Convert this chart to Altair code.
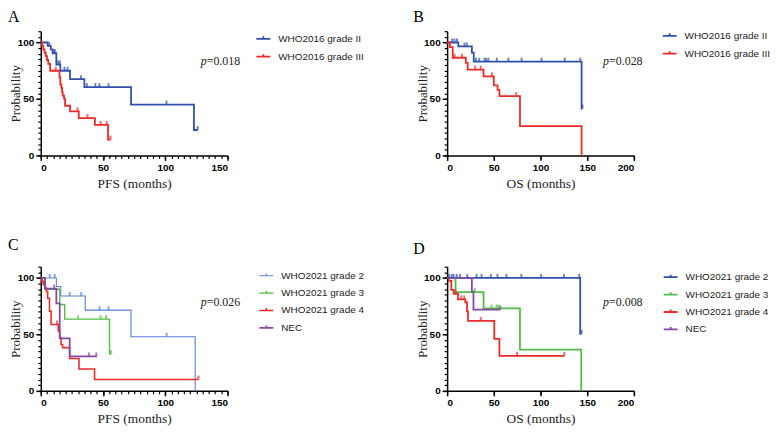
import altair as alt
import pandas as pd

# ---------------- data ----------------
# Panel A: PFS, WHO2016
A_II_t = [0, 5.5, 8, 9.5, 12.5, 15.7, 23.5, 35, 72.5, 123, 126]
A_II_s = [100, 97, 94, 90.5, 80.5, 75, 67.5, 60.5, 45, 22.5, 22.5]
A_II_c = [6.8, 10.5, 11.3, 14, 15.3, 19, 21.5, 32.3, 37, 43.8, 47, 54.4, 101, 126]
A_III_t = [0, 1, 2, 3, 4, 5, 6, 7.5, 15, 15.7, 16.5, 17.1, 17.6, 18.7, 19.5, 23.5, 30.5, 43.5, 54, 56]
A_III_s = [100, 97, 94, 91, 88, 84.5, 81, 75, 69, 63, 60, 56, 53, 50, 44, 39, 33, 27, 14, 14]
A_III_c = [12, 29.5, 37.5, 48, 53, 56]

# Panel B: OS, WHO2016
B_II_t = [0, 12, 26.5, 28.5, 144, 145]
B_II_s = [100, 96.5, 91, 83, 41.5, 41.5]
B_II_c = [5.3, 7.8, 10.6, 18.6, 21, 31, 34.4, 40, 42, 44.3, 53.2, 65.6, 79.8, 101, 126, 142.5, 145]
B_III_t = [0, 3, 6, 20, 22, 39, 50, 54, 56, 78, 144]
B_III_s = [100, 96, 86.5, 82, 76, 70, 62, 58, 52.5, 26, 0]
B_III_c = [8, 16, 30, 36, 48, 74]

# Panel C: PFS, WHO2021
C_2_t = [0, 12.5, 16, 35.7, 72.5, 124]
C_2_s = [100, 92.4, 84, 71.5, 48, 0]
C_2_c = [7.2, 11.2, 23.2, 32.5, 47.2, 54.4, 101]
C_3_t = [0, 3.2, 15.2, 19.2, 55.2, 56.5]
C_3_s = [100, 90, 76.5, 63.5, 32.5, 32.5]
C_3_c = [30, 48, 52.5, 56.5]
C_4_t = [0, 1, 2, 3.5, 4.5, 5.5, 7, 8.3, 14, 15.2, 16.3, 17.5, 23.2, 30.7, 43.2, 126.6]
C_4_s = [100, 97, 94, 91, 88, 82, 70.5, 58.8, 53, 47, 41, 38.3, 28.7, 19.3, 10, 10]
C_4_c = [13, 126.6]
C_N_t = [0, 3.5, 12.5, 15.2, 23.2, 45]
C_N_s = [100, 90.5, 77.5, 46.5, 30.5, 30.5]
C_N_c = [10.7, 38.6, 44.6]

# Panel D: OS, WHO2021
D_2_t = [0, 142.5, 144]
D_2_s = [100, 50.5, 50.5]
D_2_c = [2.1, 5, 7, 10.3, 13.8, 21.6, 31.6, 36.9, 46.8, 53.9, 63.5, 79.5, 100.7, 125, 141.5, 144]
D_3_t = [0, 9, 39, 78, 143.6]
D_3_s = [100, 87.5, 73, 36.5, 0]
D_3_c = [29.8, 47.5, 53, 55.3]
D_4_t = [0, 1.8, 4.5, 7, 11.7, 19.5, 21.3, 22.3, 50.5, 56, 125.5]
D_4_s = [100, 97.5, 89.5, 86, 81, 78.5, 70.5, 62, 46, 31, 31]
D_4_c = [9, 15.2, 18.4, 36, 75, 125.5]
D_N_t = [0, 26.5, 28.2, 57]
D_N_s = [100, 88, 72, 72]
D_N_c = [57]

names_2016 = ["WHO2016 grade II", "WHO2016 grade III"]
names_2021 = ["WHO2021 grade 2", "WHO2021 grade 3", "WHO2021 grade 4", "NEC"]
pvals = ["=0.018", "=0.028", "=0.026", "=0.008"]
letters = ["A", "B", "C", "D"]

BLUE = "#2f50ad"
LBLUE = "#5a7fd6"
RED = "#ee2a26"
GREEN = "#52bd45"
PURPLE = "#8a46a8"


def step_rows(name, t, s):
    return [{"series": name, "t": a, "s": b, "o": i} for i, (a, b) in enumerate(zip(t, s))]


def cens_rows(name, c, t, s):
    rows = []
    for ct in c:
        v = s[0]
        for a, b in zip(t, s):
            if a <= ct:
                v = b
        rows.append({"series": name, "t": ct, "s": v})
    return rows


def panel(letter, series, names, colors, widths, xmax, xminor, xtitle, pval,
          px, py, lx, ly, rowpad, letx, lety):
    lines, cens = [], []
    for name, t, s, c in series:
        lines += step_rows(name, t, s)
        cens += cens_rows(name, c, t, s)
    dl = pd.DataFrame(lines)
    dc = pd.DataFrame(cens)
    one = pd.DataFrame({"letter": [letter], "p": ["p"], "v": [pval]})

    xs = alt.Scale(domain=[0, xmax], nice=False, zero=True)
    ys = alt.Scale(domain=[0, 110], nice=False)
    cs = alt.Scale(domain=names, range=colors)

    minor = alt.Chart(dl).mark_line(opacity=0).encode(
        x=alt.X("t:Q", scale=xs, axis=alt.Axis(orient="bottom", values=xminor, labels=False,
                                               domain=False, tickSize=3, tickWidth=1.2,
                                               title=None, grid=False)),
        y=alt.Y("s:Q", scale=ys, axis=alt.Axis(orient="left", values=list(range(0, 111, 5)),
                                               labels=False, domain=False, tickSize=3,
                                               tickWidth=1.2, title=None, grid=False)),
        detail="series:N",
    )
    major = alt.Chart(dl).mark_line(interpolate="step-after").encode(
        x=alt.X("t:Q", scale=xs, axis=alt.Axis(orient="bottom",
                                               values=list(range(0, xmax + 1, 50)),
                                               title=xtitle, titleY=28, titleBaseline="middle",
                                               format="d")),
        y=alt.Y("s:Q", scale=ys, axis=alt.Axis(orient="left", values=[0, 50, 100],
                                               title="Probability", titleX=-25, titleY=62.5,
                                               titleAngle=-90, titleAlign="center",
                                               titleBaseline="middle", titleFontSize=13,
                                               format="d")),
        color=alt.Color("series:N", scale=cs, sort=names, legend=alt.Legend(
            orient="none", legendX=lx, legendY=ly, title=None,
            symbolType="M-1,0H1M0,0V-0.35", symbolSize=196, symbolStrokeWidth=1.6,
            labelFont="Liberation Sans", labelFontSize=10, labelColor="#222",
            labelOffset=7, rowPadding=rowpad, padding=0)),
        strokeWidth=alt.StrokeWidth("series:N", scale=alt.Scale(domain=names, range=widths),
                                    legend=None),
        order="o:Q",
    )
    ticks = alt.Chart(dc).mark_tick(orient="vertical", size=4, thickness=2, yOffset=-2).encode(
        x=alt.X("t:Q", scale=xs, axis=None),
        y=alt.Y("s:Q", scale=ys, axis=None),
        color=alt.Color("series:N", scale=cs, legend=None),
    )
    ptxt = alt.Chart(one).mark_text(font="Liberation Serif", fontStyle="italic",
                                    fontSize=12, align="left", baseline="middle",
                                    color="#222").encode(
        text="p:N", x=alt.value(px), y=alt.value(py))
    vtxt = alt.Chart(one).mark_text(font="Liberation Serif", fontSize=12,
                                    align="left", baseline="middle",
                                    color="#222").encode(
        text="v:N", x=alt.value(px + 6), y=alt.value(py))
    ltxt = alt.Chart(one).mark_text(font="Liberation Serif", fontSize=16,
                                    align="left", baseline="top",
                                    color="black").encode(
        text="letter:N", x=alt.value(letx), y=alt.value(lety))
    return alt.layer(minor, major, ticks, ptxt, vtxt, ltxt).resolve_axis(
        x="independent", y="independent"
    ).properties(width=188, height=125)


pA = panel(letters[0], [(names_2016[0], A_II_t, A_II_s, A_II_c), (names_2016[1], A_III_t, A_III_s, A_III_c)],
           names_2016, [BLUE, RED], [1.8, 1.8], 150, list(range(0, 151, 5)), "PFS (months)",
           pvals[0], 161, 30, 216, -0.4, 5, -33, -22)
pB = panel(letters[1], [(names_2016[0], B_II_t, B_II_s, B_II_c), (names_2016[1], B_III_t, B_III_s, B_III_c)],
           names_2016, [BLUE, RED], [1.8, 1.8], 200, [0, 50, 100, 150, 200], "OS (months)",
           pvals[1], 157, 30, 216, -3.4, 5, -34, -22)
pC = panel(letters[2], [(names_2021[0], C_2_t, C_2_s, C_2_c), (names_2021[1], C_3_t, C_3_s, C_3_c),
                        (names_2021[2], C_4_t, C_4_s, C_4_c), (names_2021[3], C_N_t, C_N_s, C_N_c)],
           names_2021, [LBLUE, GREEN, RED, PURPLE], [1.1, 1.8, 1.8, 1.8], 150,
           list(range(0, 151, 5)), "PFS (months)", pvals[2], 161, 36, 219, 1.1, 4.5, -33, -30)
pD = panel(letters[3], [(names_2021[0], D_2_t, D_2_s, D_2_c), (names_2021[1], D_3_t, D_3_s, D_3_c),
                        (names_2021[2], D_4_t, D_4_s, D_4_c), (names_2021[3], D_N_t, D_N_s, D_N_c)],
           names_2021, [BLUE, GREEN, RED, PURPLE], [1.8, 1.8, 1.8, 1.8], 200,
           [0, 50, 100, 150, 200], "OS (months)", pvals[3], 157, 36, 217, 2.6, 4.5, -34, -26)

chart = alt.concat(pA, pB, pC, pD, columns=2, spacing={"row": 112, "column": 221},
                   bounds="flush").resolve_scale(
    color="independent", strokeWidth="independent"
).properties(
    padding={"left": 0, "top": 0, "right": 0, "bottom": 0}
).configure_view(stroke=None).configure_axis(
    labelFont="Liberation Sans", labelFontWeight="bold", labelFontSize=10, labelColor="black",
    tickColor="black", domainColor="black", domainWidth=1.5, tickWidth=1.5, tickSize=5,
    labelPadding=2, grid=False, titleFont="Liberation Serif", titleFontWeight="normal",
    titleFontSize=13.5, titleColor="#222",
)

chart.save("out.html", embed_options={"renderer": "svg", "actions": False})
